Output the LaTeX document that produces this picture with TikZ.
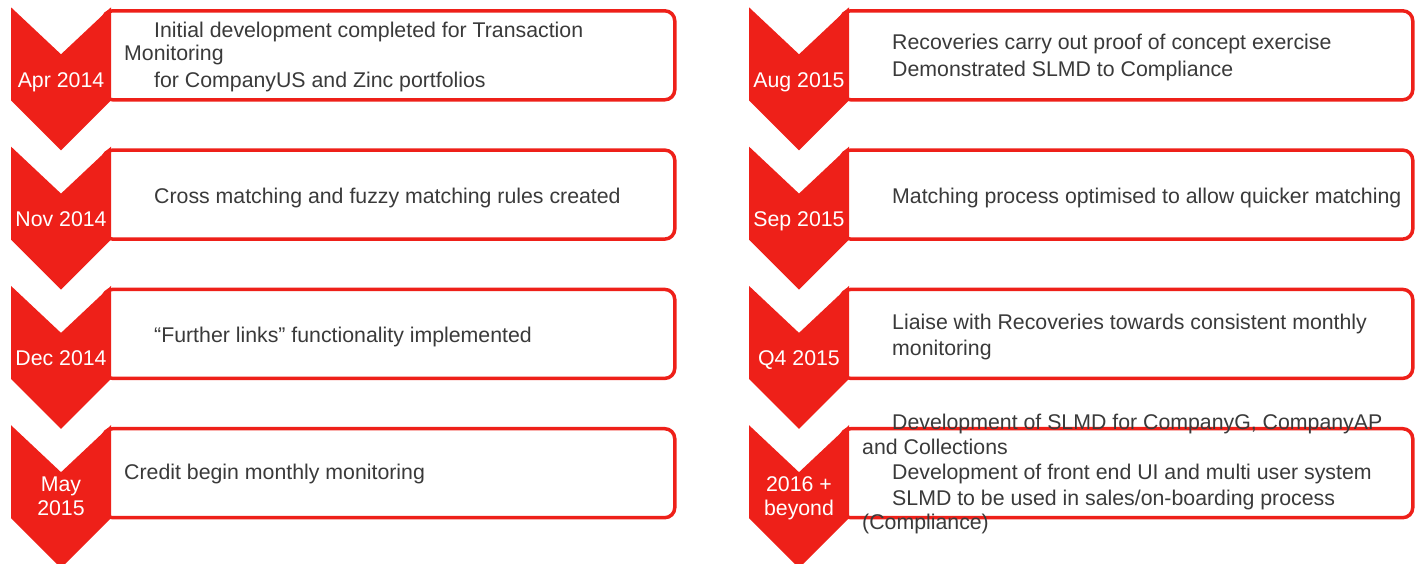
\documentclass[tikz,border=0pt]{standalone}
\usepackage{fontspec}
\setmainfont{Liberation Sans}
\usetikzlibrary{positioning}
\definecolor{tlred}{RGB}{238,32,25}
\definecolor{tlgray}{RGB}{58,58,58}

\begin{document}
\begin{tikzpicture}[x=1pt,y=-1pt,
    box/.style={draw=tlred,line width=3.5pt,rounded corners=10pt,fill=white,minimum width=572pt,minimum height=89pt,anchor=north west,inner sep=0pt},
    when/.style={text=white,font=\fontsize{21.3}{24}\selectfont,align=center,anchor=base,inner sep=0pt},
    entry/.style={text=tlgray,font=\fontsize{21.3}{25}\selectfont,anchor=base west,inner sep=0pt}]
  \useasboundingbox (0,0) rectangle (1422,564);
  \foreach \x/\y/\b/\d [count=\n] in {11/7.3/80/Apr 2014,11/146.6/80/Nov 2014,11/285.9/80/Dec 2014,11/425.2/90/{May\\2015},
                                     749/7.3/80/Aug 2015,749/146.6/80/Sep 2015,749/285.9/80/Q4 2015,749/425.2/90/{2016 +\\beyond}}
  {
    \node[box] (B\n) at (\x+90,\y+1.75) {};
    \fill[tlred] (\x,\y) -- ++(50,47) -- ++(50,-47) -- ++(0,93) -- ++(-50,50) -- ++(-50,-50) -- cycle;
    \node[when] (D\n) at (\x+50,\y+\b) {\d};
  }
  \foreach \x/\y/\words [count=\m] in {154/38/Initial development completed for Transaction,
                                       124/61/Monitoring,
                                       154/88/for CompanyUS and Zinc portfolios,
                                       154/203.5/Cross matching and fuzzy matching rules created,
                                       154/342/“Further links” functionality implemented,
                                       124/479/Credit begin monthly monitoring,
                                       892/50/Recoveries carry out proof of concept exercise,
                                       892/77/Demonstrated SLMD to Compliance,
                                       892/203.5/Matching process optimised to allow quicker matching,
                                       892/329/Liaise with Recoveries towards consistent monthly,
                                       892/355/monitoring,
                                       892/429/{Development of SLMD for CompanyG, CompanyAP},
                                       862/454/and Collections,
                                       892/479/Development of front end UI and multi user system,
                                       892/505/{SLMD to be used in sales/on-boarding process},
                                       862/529/(Compliance)}
    \node[entry] (T\m) at (\x,\y) {\words};
\end{tikzpicture}
\end{document}
